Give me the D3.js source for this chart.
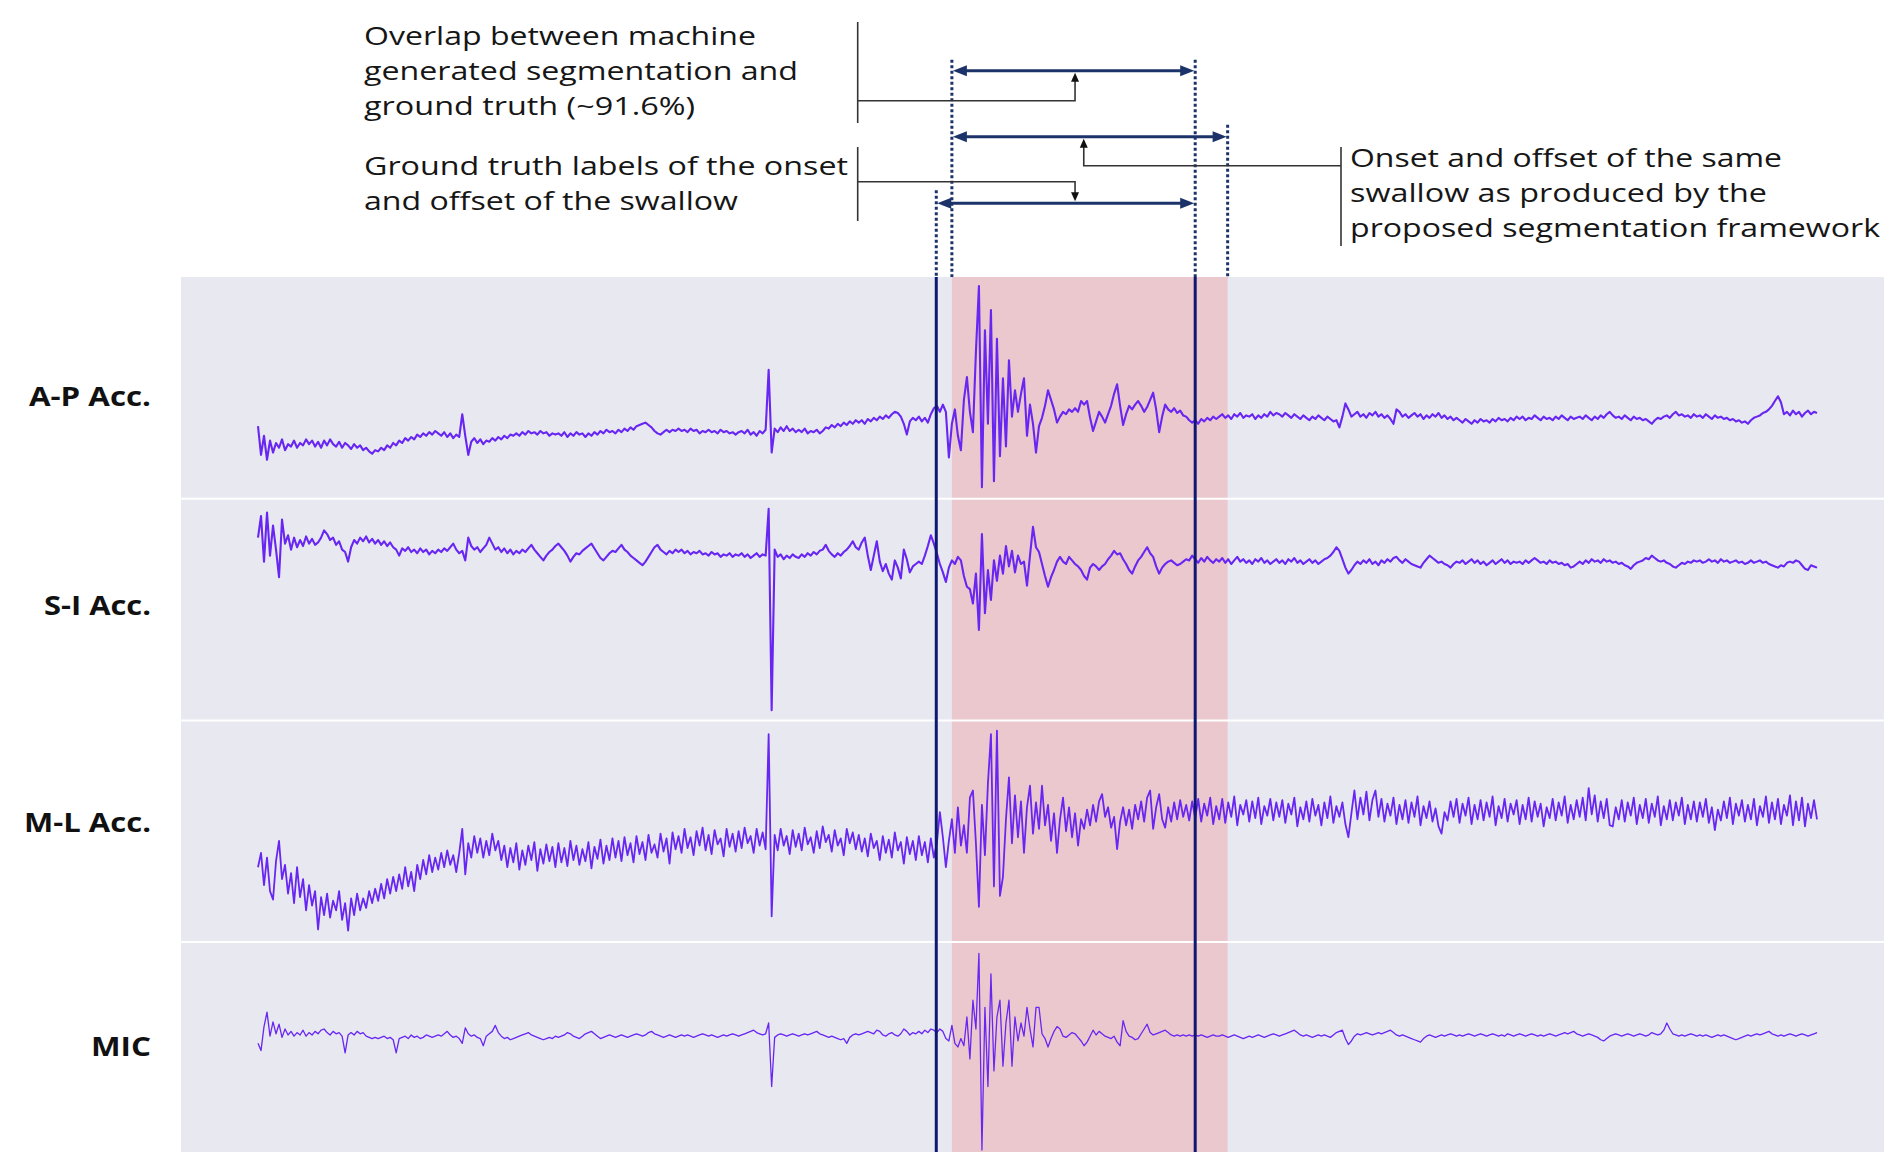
<!DOCTYPE html>
<html><head><meta charset="utf-8">
<script src="https://cdn.jsdelivr.net/npm/d3@7"></script>
<style>html,body{margin:0;padding:0;background:#fff;} svg{display:block;}</style>
</head><body>
<svg id="chart" width="1884" height="1152"></svg>
<script>
// ---------------- DATA ----------------
const channels = ["A-P Acc.", "S-I Acc.", "M-L Acc.", "MIC"];
const sampleInterval = 0.05;           // seconds between samples
const duration = 25.95;                // seconds shown
const groundTruth = [11.29, 15.60];    // onset, offset (s)
const predicted   = [11.55, 16.14];    // onset, offset (s)

const overlapNote = ["Overlap between machine", "generated segmentation and", "ground truth (~91.6%)"];
const truthNote   = ["Ground truth labels of the onset", "and offset of the swallow"];
const predNote    = ["Onset and offset of the same", "swallow as produced by the", "proposed segmentation framework"];

const apAcc = [
-32,-56,-40,-60,-44,-54,-46,-50,-43,-52,-47,-49,-44,-50,-46,-48,-43,-47,-44,-49,
-45,-50,-44,-48,-43,-47,-49,-45,-50,-46,-48,-51,-47,-50,-48,-52,-50,-53,-55,-52,
-53,-50,-52,-48,-50,-46,-48,-44,-46,-42,-44,-41,-43,-39,-41,-38,-40,-37,-39,-36,
-38,-40,-37,-41,-38,-42,-39,-41,-22,-40,-56,-45,-42,-46,-43,-47,-44,-45,-42,-44,
-41,-43,-40,-42,-39,-40,-38,-40,-37,-39,-36,-38,-37,-39,-36,-38,-37,-40,-38,-39,
-38,-40,-37,-41,-38,-40,-37,-39,-38,-41,-38,-40,-37,-39,-36,-38,-35,-37,-36,-38,
-35,-37,-34,-36,-33,-35,-32,-31,-30,-29,-31,-33,-36,-38,-39,-37,-35,-37,-35,-36,
-34,-36,-35,-37,-34,-36,-35,-38,-36,-37,-35,-37,-36,-38,-35,-37,-36,-38,-37,-39,
-37,-36,-38,-35,-39,-37,-40,-36,-38,-35,15,-54,-34,-37,-33,-36,-32,-36,-34,-37,
-35,-37,-34,-38,-36,-37,-35,-38,-36,-33,-34,-31,-33,-30,-32,-29,-31,-28,-30,-27,
-29,-27,-30,-26,-28,-25,-27,-24,-26,-23,-25,-22,-20,-21,-24,-30,-39,-28,-25,-27,
-24,-28,-25,-29,-22,-17,-15,-20,-14,-20,-58,-30,-18,-40,-52,-10,9,-20,-37,30,
85,-83,48,-30,65,-78,41,-57,8,-49,23,-24,-2,-20,-5,8,-40,-14,-30,-54,
-32,-25,-15,-2,-10,-18,-29,-24,-20,-22,-18,-20,-17,-20,-11,-14,-11,-25,-36,-28,
-20,-24,-29,-22,-15,-5,3,-15,-31,-22,-15,-18,-14,-11,-15,-20,-16,-10,-4,-18,
-37,-24,-14,-18,-20,-17,-21,-19,-23,-24,-27,-29,-27,-30,-26,-28,-25,-27,-24,-26,
-24,-22,-25,-23,-26,-22,-24,-21,-25,-23,-24,-22,-26,-23,-25,-22,-24,-20,-23,-21,
-22,-24,-21,-23,-25,-22,-24,-26,-23,-25,-27,-24,-26,-23,-25,-27,-24,-26,-28,-27,
-33,-24,-13,-18,-24,-22,-20,-24,-22,-25,-21,-23,-20,-24,-22,-25,-23,-26,-30,-18,
-20,-24,-22,-25,-23,-21,-24,-22,-26,-23,-25,-22,-24,-21,-25,-23,-26,-24,-27,-25,
-27,-29,-26,-28,-30,-27,-29,-26,-28,-27,-29,-26,-28,-25,-27,-26,-28,-25,-27,-24,
-26,-24,-27,-25,-26,-23,-25,-27,-24,-26,-25,-27,-24,-26,-23,-25,-27,-24,-26,-25,
-24,-26,-23,-25,-27,-24,-26,-23,-25,-22,-20,-23,-25,-24,-26,-23,-25,-27,-24,-26,
-25,-27,-26,-28,-30,-27,-25,-26,-24,-23,-25,-22,-20,-23,-22,-24,-23,-25,-22,-24,
-23,-25,-22,-24,-26,-23,-25,-24,-26,-25,-27,-26,-28,-27,-29,-28,-30,-27,-25,-24,
-23,-21,-20,-18,-15,-11,-7,-12,-22,-20,-23,-19,-22,-20,-24,-21,-19,-22,-20,-21];

const siAcc = [
60,78,40,81,45,70,50,27,75,55,62,50,60,52,58,53,61,55,59,54,
56,60,66,63,58,60,54,57,50,48,40,52,58,55,60,57,61,56,59,55,
58,54,57,53,56,52,50,45,51,49,52,48,50,47,51,48,50,46,49,47,
50,48,51,49,52,55,50,47,49,41,60,53,50,52,48,51,54,60,55,50,
52,48,51,47,50,46,49,47,50,48,51,54,50,47,44,41,45,48,50,53,
55,52,49,45,40,44,47,46,49,51,53,55,51,47,43,41,44,47,49,48,
51,54,50,48,45,43,41,39,37,40,44,48,52,54,50,48,46,49,47,50,
48,50,47,49,46,48,47,49,46,47,45,48,46,47,44,46,45,47,44,46,
45,47,44,46,43,45,47,44,46,45,84,-84,50,44,46,42,45,43,46,44,
43,46,44,47,45,48,46,49,50,54,49,46,44,47,45,48,50,53,57,52,
50,56,60,45,33,45,57,40,32,38,30,25,41,35,26,50,42,31,36,38,
40,38,45,53,62,55,47,38,31,23,35,41,38,44,41,28,19,17,5,30,
-17,63,-3,33,8,41,24,45,30,53,36,49,31,45,38,40,20,45,69,52,
48,38,28,19,27,33,40,44,40,38,44,41,38,36,33,28,25,35,38,36,
33,36,38,42,45,49,46,47,42,38,33,30,36,41,44,48,52,47,44,36,
30,35,38,40,41,39,37,38,40,42,41,45,42,39,43,40,44,41,39,42,
40,43,39,42,38,41,44,40,42,39,41,38,42,40,43,39,41,38,40,42,
39,41,38,42,40,43,39,41,38,40,42,39,41,38,40,42,43,45,48,52,
49,42,35,30,33,37,40,38,41,39,42,38,40,37,41,39,42,40,43,44,
41,39,42,40,38,37,36,35,39,42,45,43,41,39,40,38,37,35,38,40,
39,41,38,40,42,39,41,38,40,37,39,41,38,40,42,39,41,38,40,39,
40,38,41,39,41,43,41,39,40,38,41,39,40,38,39,37,38,35,36,38,
40,38,41,39,42,40,41,39,42,40,41,39,40,38,39,37,36,34,37,39,
40,41,43,42,45,43,41,40,41,39,38,36,35,37,39,38,40,39,41,40,
41,39,40,42,40,41,39,42,40,41,39,40,41,39,40,38,39,41,39,40,
41,39,40,38,37,36,35,37,36,39,40,39,41,40,37,34,33,37,36,35];

const mlAcc = [
-30,-18,-45,-22,-50,-57,-25,-8,-40,-28,-52,-35,-60,-30,-55,-40,-66,-45,-62,-50,
-82,-55,-70,-52,-72,-58,-66,-50,-74,-60,-83,-56,-70,-52,-66,-56,-64,-50,-60,-48,
-58,-44,-56,-40,-52,-38,-50,-36,-48,-30,-46,-34,-50,-28,-40,-24,-36,-20,-34,-22,
-32,-18,-30,-16,-28,-20,-34,-18,2,-36,-10,-22,-4,-18,-6,-22,-8,-20,-2,-16,
-8,-24,-12,-30,-14,-26,-10,-32,-16,-28,-12,-24,-9,-33,-15,-27,-11,-25,-13,-30,
-10,-26,-14,-29,-8,-24,-12,-28,-15,-25,-9,-31,-13,-23,-7,-27,-12,-24,-6,-22,
-8,-25,-5,-20,-10,-26,-4,-19,-9,-24,-3,-18,-11,-22,-2,-17,-6,-27,-1,-15,
-4,-18,2,-14,-5,-20,0,-12,3,-16,-3,-19,1,-11,-6,-21,2,-13,-2,-17,
0,-14,3,-10,-4,-18,2,-12,-1,-15,81,-71,-3,-16,2,-12,-4,-19,1,-13,
-2,-16,3,-11,-5,-18,0,-14,4,-9,-3,-17,1,-12,-6,-20,2,-10,-1,-15,
-3,-17,-6,-21,-2,-14,-8,-24,-4,-18,-7,-22,-1,-16,-9,-27,-5,-19,-8,-24,
-4,-20,-9,-26,-6,-22,-10,16,-5,-30,-8,10,-18,20,-12,5,-18,28,34,-10,
-63,22,-20,40,81,-46,84,-54,-38,10,45,-10,30,-5,25,-18,20,38,-2,24,
2,38,5,22,-8,15,-18,10,28,0,20,-5,15,-12,10,2,18,5,22,8,
25,31,12,20,3,12,-15,8,20,5,18,2,22,10,25,8,28,34,2,20,
31,10,3,20,8,24,10,26,12,22,9,25,11,27,8,23,13,28,6,21,
10,27,7,24,12,29,5,22,14,26,8,25,11,28,6,21,13,27,9,24,
12,26,7,23,14,28,4,20,10,25,8,27,13,22,5,24,11,29,7,21,
12,24,6,-5,15,34,10,28,14,33,9,26,34,12,27,8,23,13,28,6,
22,10,26,7,24,12,29,5,21,11,25,8,19,4,-2,16,9,25,12,27,
7,23,13,28,6,22,10,26,9,24,12,29,5,21,11,27,8,23,14,26,
6,22,10,28,8,25,12,23,4,20,11,27,9,24,13,29,7,22,10,26,
12,28,9,36,14,30,8,25,11,27,5,4,20,10,26,8,24,13,28,6,
22,11,27,7,23,12,29,5,21,10,26,9,24,13,28,6,22,10,25,8,
24,12,27,7,20,1,18,9,25,11,28,6,23,13,26,8,22,10,27,5,
21,12,29,7,24,10,27,6,22,13,30,5,25,9,28,4,23,11,26,10];

const mic = [
8,2,22,34,14,26,16,24,13,20,15,18,14,17,15,19,14,17,15,18,
16,19,20,17,15,18,16,17,14,0,15,17,15,18,16,17,14,13,12,13,
12,13,14,12,13,11,0,12,13,14,12,15,13,14,12,13,15,14,13,14,
15,14,16,18,15,13,14,12,8,21,16,14,15,13,12,6,14,16,18,23,
17,14,12,13,11,12,13,14,15,16,17,15,14,13,12,11,12,13,12,14,
13,14,15,17,16,14,13,12,14,16,17,18,16,14,12,13,14,15,14,13,
14,15,14,13,14,15,16,15,14,15,17,18,16,15,14,13,14,15,14,13,
14,15,14,15,14,13,14,15,16,15,14,15,14,13,14,15,14,15,16,15,
14,15,16,17,18,19,17,16,15,16,25,-28,13,15,16,15,14,15,16,15,
14,15,16,15,16,17,18,16,15,14,13,14,13,12,11,12,8,13,15,16,
15,16,17,18,17,16,19,18,15,14,16,17,15,14,16,20,18,15,17,16,
18,16,19,17,20,19,17,20,18,12,10,23,8,5,12,6,30,-5,44,20,
83,-81,38,-28,66,-15,30,44,-11,25,44,-11,30,10,25,14,38,20,5,38,
38,16,12,5,12,18,22,20,14,13,15,17,16,13,10,6,9,14,19,15,
18,16,14,13,12,14,9,6,27,18,14,13,11,12,16,20,24,17,15,16,
17,18,19,17,15,14,15,14,15,14,15,14,15,14,15,14,13,14,15,14,
14,15,14,13,14,15,14,13,12,13,14,13,14,15,14,13,14,15,16,15,
14,15,16,17,18,19,17,15,14,15,14,13,14,15,14,15,14,13,15,17,
18,19,12,7,10,14,16,15,16,17,16,15,16,17,16,17,18,19,17,15,
14,15,14,13,12,11,10,9,12,14,15,14,13,14,15,14,15,16,15,14,
15,14,15,16,15,14,15,16,15,14,15,16,15,14,15,14,16,15,14,15,
16,15,14,15,16,15,14,15,14,15,16,15,14,15,16,17,16,17,18,16,
15,14,15,16,15,14,13,11,10,12,14,15,16,15,14,15,16,15,14,15,
16,15,14,15,17,16,15,16,19,25,20,16,15,14,15,14,15,16,15,14,
15,14,15,14,13,14,15,14,15,14,13,12,11,12,13,14,15,14,15,16,
15,16,17,18,16,15,14,15,14,15,16,15,14,15,16,15,14,15,16,17];

const series = [apAcc, siAcc, mlAcc, mic];

// ---------------- LAYOUT ----------------
const W = 1884, H = 1152;
const plotLeft = 181, plotTop = 277, panelH = 221.7;
const ampDomain = [-92.5, 92.5];
const traceColor = "#6826f2";
const traceWidths = [2.1, 2.1, 1.8, 1.3];
const navy = "#1c3369";
const gtColor = "#0d1872";
const inkColor = "#333333";
const noteFont = "'Open Sans', 'Noto Sans', sans-serif";

const svg = d3.select("#chart");
const x = d3.scaleLinear().domain([0, duration]).range([258, 1817]);

// background
svg.append("rect").attr("x", plotLeft).attr("y", plotTop)
  .attr("width", W - plotLeft).attr("height", H - plotTop).attr("fill", "#e8e8f1");

// predicted segment (pink)
svg.append("rect").attr("x", x(predicted[0])).attr("y", plotTop)
  .attr("width", x(predicted[1]) - x(predicted[0])).attr("height", H - plotTop)
  .attr("fill", "#ebc8cd");

// panel dividers
for (let k = 1; k < channels.length; k++) {
  svg.append("line").attr("x1", plotLeft).attr("x2", W)
    .attr("y1", plotTop + k * panelH).attr("y2", plotTop + k * panelH)
    .attr("stroke", "#ffffff").attr("stroke-width", 2);
}

// traces
const clip = svg.append("clipPath").attr("id", "plotclip");
clip.append("rect").attr("x", plotLeft).attr("y", plotTop).attr("width", W - plotLeft).attr("height", H - plotTop);
const traces = svg.append("g").attr("clip-path", "url(#plotclip)");
series.forEach((vals, k) => {
  const y = d3.scaleLinear().domain(ampDomain)
    .range([plotTop + (k + 1) * panelH, plotTop + k * panelH]);
  const line = d3.line().x((d, i) => x(i * sampleInterval)).y(d => y(d));
  traces.append("path").datum(vals).attr("d", line)
    .attr("fill", "none").attr("stroke", traceColor)
    .attr("stroke-width", traceWidths[k]).attr("stroke-linejoin", "round");
});

// ground-truth solid lines
groundTruth.forEach(t => {
  svg.append("line").attr("x1", x(t)).attr("x2", x(t)).attr("y1", plotTop).attr("y2", H)
    .attr("stroke", gtColor).attr("stroke-width", 3);
});

// channel labels
const labelBase = [405.5, 615.4, 832, 1056];
const labelWidth = [122, 107, 127, 60];
channels.forEach((c, k) => {
  svg.append("text").attr("x", 151).attr("y", labelBase[k]).attr("text-anchor", "end")
    .attr("font-family", noteFont).attr("font-weight", "bold")
    .attr("font-size", 26).attr("fill", "#111")
    .attr("textLength", labelWidth[k]).attr("lengthAdjust", "spacingAndGlyphs").text(c);
});

// ---------------- ANNOTATIONS ----------------
const yTop = 70.7, yMid = 136.7, yBot = 203.3;

// dotted guide lines
const guides = [
  {t: groundTruth[0], y0: yBot - 13},
  {t: predicted[0],   y0: yTop - 11},
  {t: groundTruth[1], y0: yTop - 11},
  {t: predicted[1],   y0: yMid - 12}
];
guides.forEach(g => {
  svg.append("line").attr("x1", x(g.t)).attr("x2", x(g.t)).attr("y1", g.y0).attr("y2", plotTop)
    .attr("stroke", navy).attr("stroke-width", 3).attr("stroke-dasharray", "3,2.5");
});

function dblArrow(x1, x2, y) {
  const L = 14, hw = 5.5;
  svg.append("line").attr("x1", x1 + 8).attr("x2", x2 - 8).attr("y1", y).attr("y2", y)
    .attr("stroke", navy).attr("stroke-width", 3);
  svg.append("path").attr("d", `M${x1},${y}L${x1 + L},${y - hw}L${x1 + L},${y + hw}Z`).attr("fill", navy);
  svg.append("path").attr("d", `M${x2},${y}L${x2 - L},${y - hw}L${x2 - L},${y + hw}Z`).attr("fill", navy);
}
dblArrow(x(predicted[0]) + 1, x(groundTruth[1]) - 1, yTop);
dblArrow(x(predicted[0]) + 1, x(predicted[1]) - 1, yMid);
dblArrow(x(groundTruth[0]) + 1, x(groundTruth[1]) - 1, yBot);

function smallHead(cx, tipY, dir) { // dir -1 up, +1 down
  const L = 9, hw = 4;
  svg.append("path").attr("d", `M${cx},${tipY}L${cx - hw},${tipY - dir * L}L${cx + hw},${tipY - dir * L}Z`).attr("fill", "#111");
}
const cTop = x((predicted[0] + groundTruth[1]) / 2) + 1.5;
const cMid = x((predicted[0] + predicted[1]) / 2) - 6;
function pathLine(d) {
  svg.append("path").attr("d", d).attr("fill", "none").attr("stroke", inkColor).attr("stroke-width", 1.6);
}
// bracket 1 (overlap)
pathLine(`M857.7,22V123`);
pathLine(`M857.7,100.7H${cTop}V${yTop + 8}`);
smallHead(cTop, yTop + 2, -1);
// bracket 2 (ground truth)
pathLine(`M857.7,147V221`);
pathLine(`M857.7,181.7H${cTop}V${yBot - 8}`);
smallHead(cTop, yBot - 2, 1);
// bracket 3 (predicted)
pathLine(`M1341,147V246`);
pathLine(`M1341,165.7H${cMid}V${yMid + 8}`);
smallHead(cMid, yMid + 2, -1);

function noteBlock(lines, x0, baselines, widths) {
  lines.forEach((s, i) => {
    svg.append("text").attr("x", x0).attr("y", baselines[i])
      .attr("font-family", noteFont).attr("font-size", 25)
      .attr("fill", "#161616").attr("textLength", widths[i]).attr("lengthAdjust", "spacingAndGlyphs")
      .text(s);
  });
}
noteBlock(overlapNote, 364, [45, 80, 115], [392, 434, 331]);
noteBlock(truthNote, 364, [175, 210], [484, 374]);
noteBlock(predNote, 1350, [167, 202, 237], [432, 417, 530]);
</script>
</body></html>
